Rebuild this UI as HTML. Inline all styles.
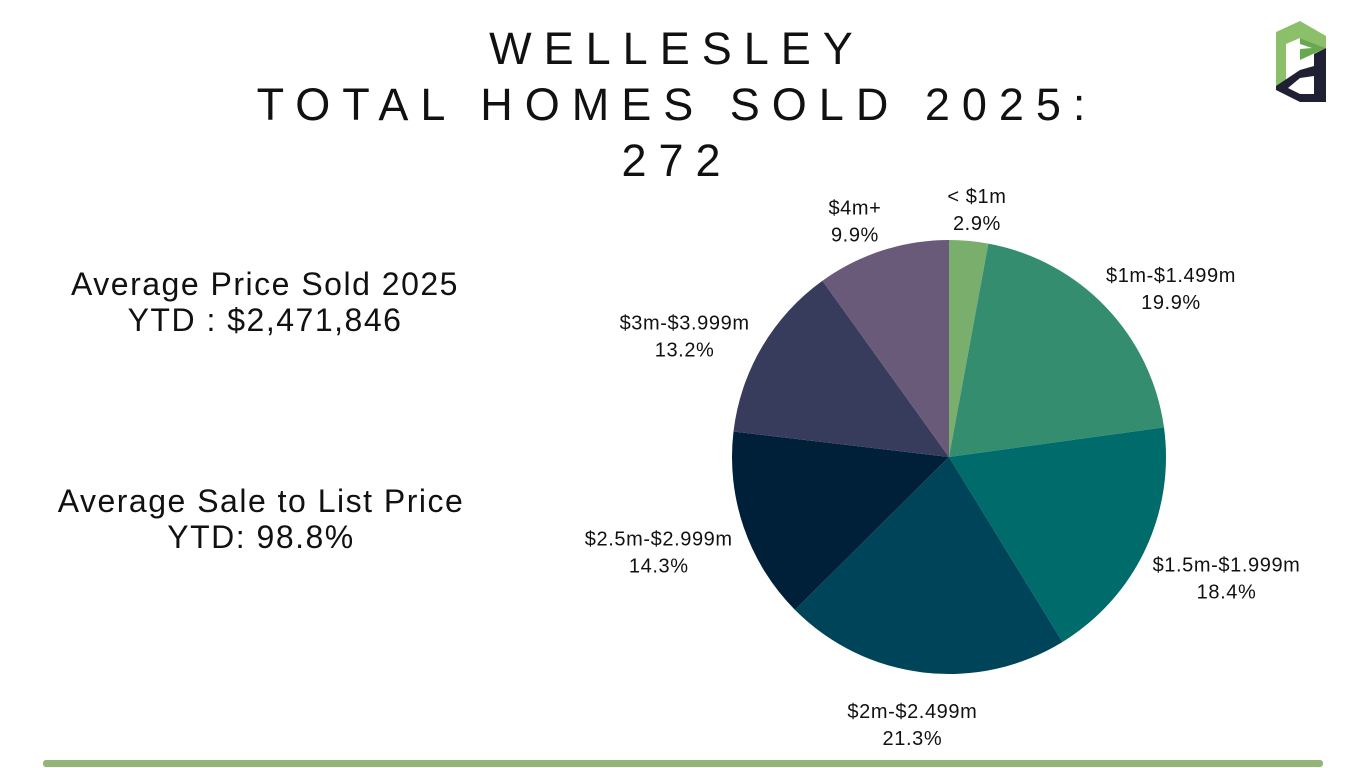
<!DOCTYPE html>
<html><head><meta charset="utf-8"><style>
html,body{margin:0;padding:0;background:#fff;}
body{width:1366px;height:768px;position:relative;overflow:hidden;font-family:"Liberation Sans",sans-serif;color:#111;}
.title{position:absolute;left:0;width:1366px;text-align:center;font-size:45px;letter-spacing:12px;font-weight:normal;line-height:56px;}
.stat{position:absolute;text-align:center;font-size:32px;letter-spacing:1.5px;line-height:36px;}
</style></head><body>
<div class="title" style="top:21px;left:-6px;">WELLESLEY<br>TOTAL HOMES SOLD 2025:<br>272</div>
<div class="stat" style="left:20px;width:490px;top:266px;">Average Price Sold 2025<br>YTD : $2,471,846</div>
<div class="stat" style="left:16px;width:490px;top:483px;">Average Sale to List Price<br>YTD: 98.8%</div>
<svg style="position:absolute;left:1270px;top:18px" width="62" height="88" viewBox="0 0 62 88">
<polygon points="6,14 30,3 56,18 56,30 30,20 16,26 16,66 6,72" fill="#8cbf6a"/>
<polygon points="30,20 56,30 30,42 30,31 42,30 30,26" fill="#6aa84f"/>
<polygon points="56,30 56,84 30,84 6,72 6,68 30,52 44,48 44,36" fill="#1f2033"/>
<polygon points="18,70 30,60 44,58 44,76 30,76" fill="#fff"/>
</svg>
<svg id="pie" style="position:absolute;left:0;top:0" width="1366" height="768"></svg>
<div style="position:absolute;left:43px;top:760px;width:1280px;height:7px;background:#93b577;border-radius:3px;"></div>
<script>
const categories=["< $1m","$1m-$1.499m","$1.5m-$1.999m","$2m-$2.499m","$2.5m-$2.999m","$3m-$3.999m","$4m+"];
const values=[2.9,19.9,18.4,21.3,14.3,13.2,9.9];
const valueLabels=["2.9%","19.9%","18.4%","21.3%","14.3%","13.2%","9.9%"];
const colors=["#7aae6c","#358d70","#006b6b","#004459","#00203a","#383c5c","#695a7a"];
const svg=document.getElementById('pie');
const NS="http://www.w3.org/2000/svg";
const cx=949,cy=457,r=217;
const total=values.reduce((a,b)=>a+b,0);
function pt(a,rr){return [cx+Math.sin(a)*rr, cy-Math.cos(a)*rr];}
let acc=0;
values.forEach((v,i)=>{
  const a0=acc/total*2*Math.PI; acc+=v; const a1=acc/total*2*Math.PI;
  const p0=pt(a0,r),p1=pt(a1,r);
  const large=(a1-a0)>Math.PI?1:0;
  const path=document.createElementNS(NS,'path');
  path.setAttribute('d',`M${cx},${cy} L${p0[0]},${p0[1]} A${r},${r} 0 ${large} 1 ${p1[0]},${p1[1]} Z`);
  path.setAttribute('fill',colors[i]);
  
  
  svg.appendChild(path);
  const am=(a0+a1)/2;
  const an=pt(am,r+20);
  const hw=70,hh=22;
  const lx=an[0]+Math.sin(am)*hw, ly=an[1]-Math.cos(am)*hh+8;
  const t=document.createElementNS(NS,'text');
  t.setAttribute('x',lx);t.setAttribute('y',ly-4);
  t.setAttribute('text-anchor','middle');
  t.setAttribute('font-size','20');
  t.setAttribute('letter-spacing','0.6');
  t.setAttribute('font-family','Liberation Sans, sans-serif');
  t.setAttribute('fill','#111');
  
  
  const s1=document.createElementNS(NS,'tspan');s1.setAttribute('x',lx);s1.textContent=categories[i];
  const s2=document.createElementNS(NS,'tspan');s2.setAttribute('x',lx);s2.setAttribute('dy','27');s2.textContent=valueLabels[i];
  t.appendChild(s1);t.appendChild(s2);
  svg.appendChild(t);
});
</script>
</body></html>
